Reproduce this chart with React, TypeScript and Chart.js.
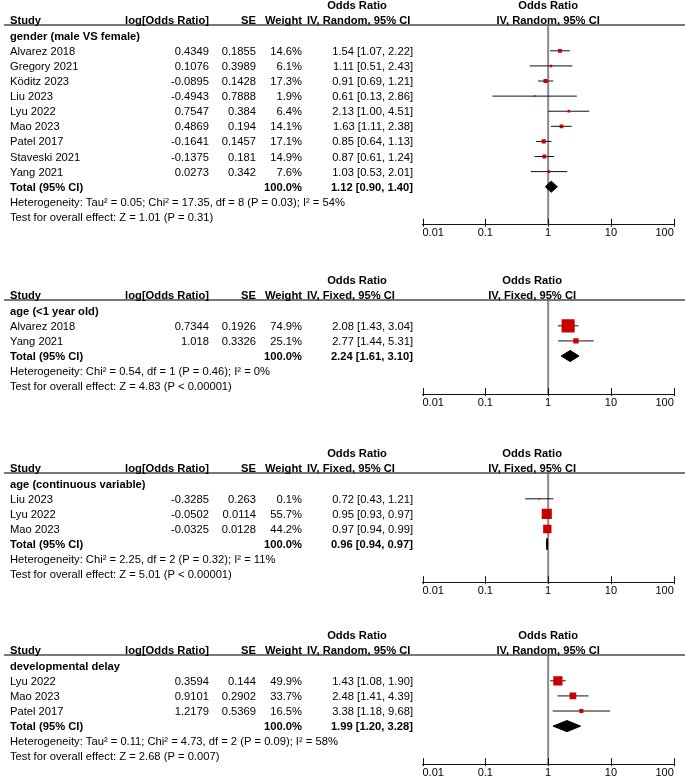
import React, { useEffect, useRef } from 'react';
import { Chart, registerables } from 'chart.js';

Chart.register(...registerables);

// ---------- Panel 1: gender ----------
const p1Title = 'gender (male VS female)';
const p1Method = 'IV, Random, 95% CI';
const p1Studies = ['Alvarez 2018', 'Gregory 2021', 'Köditz 2023', 'Liu 2023', 'Lyu 2022', 'Mao 2023', 'Patel 2017', 'Staveski 2021', 'Yang 2021'];
const p1LogOR = [0.4349, 0.1076, -0.0895, -0.4943, 0.7547, 0.4869, -0.1641, -0.1375, 0.0273];
const p1SE = [0.1855, 0.3989, 0.1428, 0.7888, 0.384, 0.194, 0.1457, 0.181, 0.342];
const p1Weight = [14.6, 6.1, 17.3, 1.9, 6.4, 14.1, 17.1, 14.9, 7.6];
const p1OR = [1.54, 1.11, 0.91, 0.61, 2.13, 1.63, 0.85, 0.87, 1.03];
const p1Lower = [1.07, 0.51, 0.69, 0.13, 1.0, 1.11, 0.64, 0.61, 0.53];
const p1Upper = [2.22, 2.43, 1.21, 2.86, 4.51, 2.38, 1.13, 1.24, 2.01];
const p1Total = [1.12, 0.9, 1.4];
const p1Het = 'Heterogeneity: Tau² = 0.05; Chi² = 17.35, df = 8 (P = 0.03); I² = 54%';
const p1Effect = 'Test for overall effect: Z = 1.01 (P = 0.31)';

// ---------- Panel 2: age (<1 year old) ----------
const p2Title = 'age (<1 year old)';
const p2Method = 'IV, Fixed, 95% CI';
const p2Studies = ['Alvarez 2018', 'Yang 2021'];
const p2LogOR = [0.7344, 1.018];
const p2SE = [0.1926, 0.3326];
const p2Weight = [74.9, 25.1];
const p2OR = [2.08, 2.77];
const p2Lower = [1.43, 1.44];
const p2Upper = [3.04, 5.31];
const p2Total = [2.24, 1.61, 3.1];
const p2Het = 'Heterogeneity: Chi² = 0.54, df = 1 (P = 0.46); I² = 0%';
const p2Effect = 'Test for overall effect: Z = 4.83 (P < 0.00001)';

// ---------- Panel 3: age (continuous variable) ----------
const p3Title = 'age (continuous variable)';
const p3Method = 'IV, Fixed, 95% CI';
const p3Studies = ['Liu 2023', 'Lyu 2022', 'Mao 2023'];
const p3LogOR = [-0.3285, -0.0502, -0.0325];
const p3SE = [0.263, 0.0114, 0.0128];
const p3Weight = [0.1, 55.7, 44.2];
const p3OR = [0.72, 0.95, 0.97];
const p3Lower = [0.43, 0.93, 0.94];
const p3Upper = [1.21, 0.97, 0.99];
const p3Total = [0.96, 0.94, 0.97];
const p3Het = 'Heterogeneity: Chi² = 2.25, df = 2 (P = 0.32); I² = 11%';
const p3Effect = 'Test for overall effect: Z = 5.01 (P < 0.00001)';

// ---------- Panel 4: developmental delay ----------
const p4Title = 'developmental delay';
const p4Method = 'IV, Random, 95% CI';
const p4Studies = ['Lyu 2022', 'Mao 2023', 'Patel 2017'];
const p4LogOR = [0.3594, 0.9101, 1.2179];
const p4SE = [0.144, 0.2902, 0.5369];
const p4Weight = [49.9, 33.7, 16.5];
const p4OR = [1.43, 2.48, 3.38];
const p4Lower = [1.08, 1.41, 1.18];
const p4Upper = [1.9, 4.39, 9.68];
const p4Total = [1.99, 1.2, 3.28];
const p4Het = 'Heterogeneity: Tau² = 0.11; Chi² = 4.73, df = 2 (P = 0.09); I² = 58%';
const p4Effect = 'Test for overall effect: Z = 2.68 (P = 0.007)';

const axisTicks = [0.01, 0.1, 1, 10, 100];
const colHeaders = ['Study', 'log[Odds Ratio]', 'SE', 'Weight', 'Odds Ratio'];
const totalLabel = 'Total (95% CI)';
const totalWeight = 100.0;

// ---------- layout ----------
const FONT = '"Liberation Sans", Arial, sans-serif';
const FS = 11.2;
const W = 685;
const ROW = 15.1;
const TOP = 26;
const Y_MIN = -0.71;
const AXIS_H = 11 * 1.2 + 2 * 2;
const X_LEFT = 422.5;
const X_RIGHT = 673.8;
const COL_STUDY = 10;
const COL_LOG = 209;
const COL_SE = 256;
const COL_W = 302;
const COL_CI = 413;
const COL_CI_HEAD_LEFT = 307;
const COL_CI_HEAD_CENTER = 357;

type PanelProps = {
  lineY: number;
  plotHeadShift: number;
  title: string;
  method: string;
  studies: string[];
  logOR: number[];
  se: number[];
  weight: number[];
  or: number[];
  lower: number[];
  upper: number[];
  total: number[];
  het: string;
  effect: string;
};

const ci = (a: number, b: number, c: number) => `${a.toFixed(2)} [${b.toFixed(2)}, ${c.toFixed(2)}]`;

function Panel(p: PanelProps) {
  const ref = useRef<HTMLCanvasElement>(null);
  const n = p.studies.length;
  const last = n + 3;
  const yMax = last + 0.52;
  const areaH = (yMax - Y_MIN) * ROW;
  const H = Math.ceil(TOP + areaH + AXIS_H + 2);
  const padBottom = H - TOP - areaH - AXIS_H;

  useEffect(() => {
    const canvas = ref.current!;
    const totalRow = n + 1;
    const dh = 0.37;

    const whiskers = p.studies.map((_, i) => ({
      type: 'line' as const,
      data: [
        { x: p.lower[i], y: i + 1 },
        { x: p.upper[i], y: i + 1 },
      ],
      borderColor: '#111',
      borderWidth: 1,
      pointRadius: 0,
      order: 3,
    }));

    const tablePlugin = {
      id: 'forestTable',
      beforeDatasetsDraw(chart: any) {
        const { ctx, chartArea: ca, scales } = chart;
        const x1 = scales.x.getPixelForValue(1);
        ctx.save();
        ctx.strokeStyle = '#8a8a8a';
        ctx.lineWidth = 2;
        ctx.beginPath();
        ctx.moveTo(x1, ca.top);
        ctx.lineTo(x1, ca.bottom);
        ctx.stroke();
        ctx.restore();
      },
      afterDraw(chart: any) {
        const { ctx, chartArea: ca, scales } = chart;
        const xs = scales.x;
        const ys = scales.y;
        const x1 = xs.getPixelForValue(1);
        ctx.save();
        // header line
        ctx.strokeStyle = '#4a4a4a';
        ctx.lineWidth = 1.5;
        ctx.beginPath();
        ctx.moveTo(4, ca.top);
        ctx.lineTo(W, ca.top);
        ctx.stroke();
        // axis ticks
        ctx.strokeStyle = '#111';
        ctx.lineWidth = 1;
        xs.ticks.forEach((t: any) => {
          const px = Math.round(xs.getPixelForValue(t.value)) + 0.5;
          ctx.beginPath();
          ctx.moveTo(px, ca.bottom - 6);
          ctx.lineTo(px, ca.bottom + 2);
          ctx.stroke();
        });
        const text = (s: string, x: number, y: number, align: CanvasTextAlign, bold = false) => {
          ctx.font = `${bold ? 'bold ' : ''}${FS}px ${FONT}`;
          ctx.textAlign = align;
          ctx.textBaseline = 'alphabetic';
          ctx.fillStyle = '#000';
          ctx.fillText(s, x, y);
        };
        // headers
        const hy = ca.top - 1.5;
        const hy2 = ca.top - 16;
        text(colHeaders[0], COL_STUDY, hy, 'left', true);
        text(colHeaders[1], COL_LOG, hy, 'right', true);
        text(colHeaders[2], COL_SE, hy, 'right', true);
        text(colHeaders[3], COL_W, hy, 'right', true);
        text(p.method, COL_CI_HEAD_LEFT, hy, 'left', true);
        text(colHeaders[4], COL_CI_HEAD_CENTER, hy2, 'center', true);
        const ph = x1 + p.plotHeadShift;
        text(colHeaders[4], ph, hy2, 'center', true);
        text(p.method, ph, hy, 'center', true);
        const ry = (r: number) => ys.getPixelForValue(r) + 4;
        text(p.title, COL_STUDY, ry(0), 'left', true);
        p.studies.forEach((s, i) => {
          const y = ry(i + 1);
          text(s, COL_STUDY, y, 'left');
          text(String(p.logOR[i]), COL_LOG, y, 'right');
          text(String(p.se[i]), COL_SE, y, 'right');
          text(`${p.weight[i].toFixed(1)}%`, COL_W, y, 'right');
          text(ci(p.or[i], p.lower[i], p.upper[i]), COL_CI, y, 'right');
        });
        const ty = ry(totalRow);
        text(totalLabel, COL_STUDY, ty, 'left', true);
        text(`${totalWeight.toFixed(1)}%`, COL_W, ty, 'right', true);
        text(ci(p.total[0], p.total[1], p.total[2]), COL_CI, ty, 'right', true);
        text(p.het, COL_STUDY, ry(n + 2), 'left');
        text(p.effect, COL_STUDY, ry(n + 3), 'left');
        ctx.restore();
      },
    };

    const chart = new Chart(canvas, {
      type: 'scatter',
      data: {
        datasets: [
          {
            type: 'scatter',
            data: p.or.map((v, i) => ({ x: v, y: i + 1 })),
            pointStyle: 'rect',
            pointRadius: p.weight.map((w) => (1.5 + 0.155 * w) / Math.SQRT2),
            pointHoverRadius: p.weight.map((w) => (1.5 + 0.155 * w) / Math.SQRT2),
            backgroundColor: '#c80000',
            borderWidth: 0,
            order: 0,
          } as any,
          {
            type: 'line',
            data: [
              { x: p.total[1], y: totalRow },
              { x: p.total[0], y: totalRow - dh },
              { x: p.total[2], y: totalRow },
              { x: p.total[0], y: totalRow + dh },
              { x: p.total[1], y: totalRow },
            ],
            borderColor: '#000',
            backgroundColor: '#000',
            borderWidth: 1,
            pointRadius: 0,
            fill: 'shape',
            tension: 0,
            order: 1,
          } as any,
          ...whiskers,
        ],
      },
      options: {
        responsive: false,
        animation: false,
        events: [],
        layout: { padding: { left: X_LEFT, right: W - X_RIGHT, top: TOP, bottom: padBottom } },
        plugins: { legend: { display: false }, tooltip: { enabled: false } },
        scales: {
          x: {
            type: 'logarithmic',
            position: 'bottom',
            min: 0.01,
            max: 100,
            afterBuildTicks: (s: any) => {
              s.ticks = axisTicks.map((v) => ({ value: v }));
            },
            ticks: {
              callback: (v: any) => String(v),
              align: 'inner',
              padding: 2,
              color: '#000',
              autoSkip: false,
              maxRotation: 0,
              font: { size: 11, family: FONT },
            },
            grid: { display: false, drawTicks: false },
            border: { display: true, color: '#111', width: 1 },
          },
          y: {
            type: 'linear',
            reverse: true,
            min: Y_MIN,
            max: yMax,
            display: false,
          },
        },
      } as any,
      plugins: [tablePlugin],
    });
    return () => chart.destroy();
  }, []);

  return (
    <canvas
      ref={ref}
      width={W}
      height={H}
      style={{ position: 'absolute', left: 0, top: p.lineY - TOP, width: W, height: H }}
    />
  );
}

export default function App() {
  return (
    <div style={{ position: 'absolute', left: 0, top: 0, width: W, height: 781, background: '#fff', overflow: 'hidden' }}>
      <Panel lineY={25} plotHeadShift={0} title={p1Title} method={p1Method} studies={p1Studies} logOR={p1LogOR} se={p1SE} weight={p1Weight}
        or={p1OR} lower={p1Lower} upper={p1Upper} total={p1Total} het={p1Het} effect={p1Effect} />
      <Panel lineY={300} plotHeadShift={-16} title={p2Title} method={p2Method} studies={p2Studies} logOR={p2LogOR} se={p2SE} weight={p2Weight}
        or={p2OR} lower={p2Lower} upper={p2Upper} total={p2Total} het={p2Het} effect={p2Effect} />
      <Panel lineY={473} plotHeadShift={-16} title={p3Title} method={p3Method} studies={p3Studies} logOR={p3LogOR} se={p3SE} weight={p3Weight}
        or={p3OR} lower={p3Lower} upper={p3Upper} total={p3Total} het={p3Het} effect={p3Effect} />
      <Panel lineY={655} plotHeadShift={0} title={p4Title} method={p4Method} studies={p4Studies} logOR={p4LogOR} se={p4SE} weight={p4Weight}
        or={p4OR} lower={p4Lower} upper={p4Upper} total={p4Total} het={p4Het} effect={p4Effect} />
    </div>
  );
}
